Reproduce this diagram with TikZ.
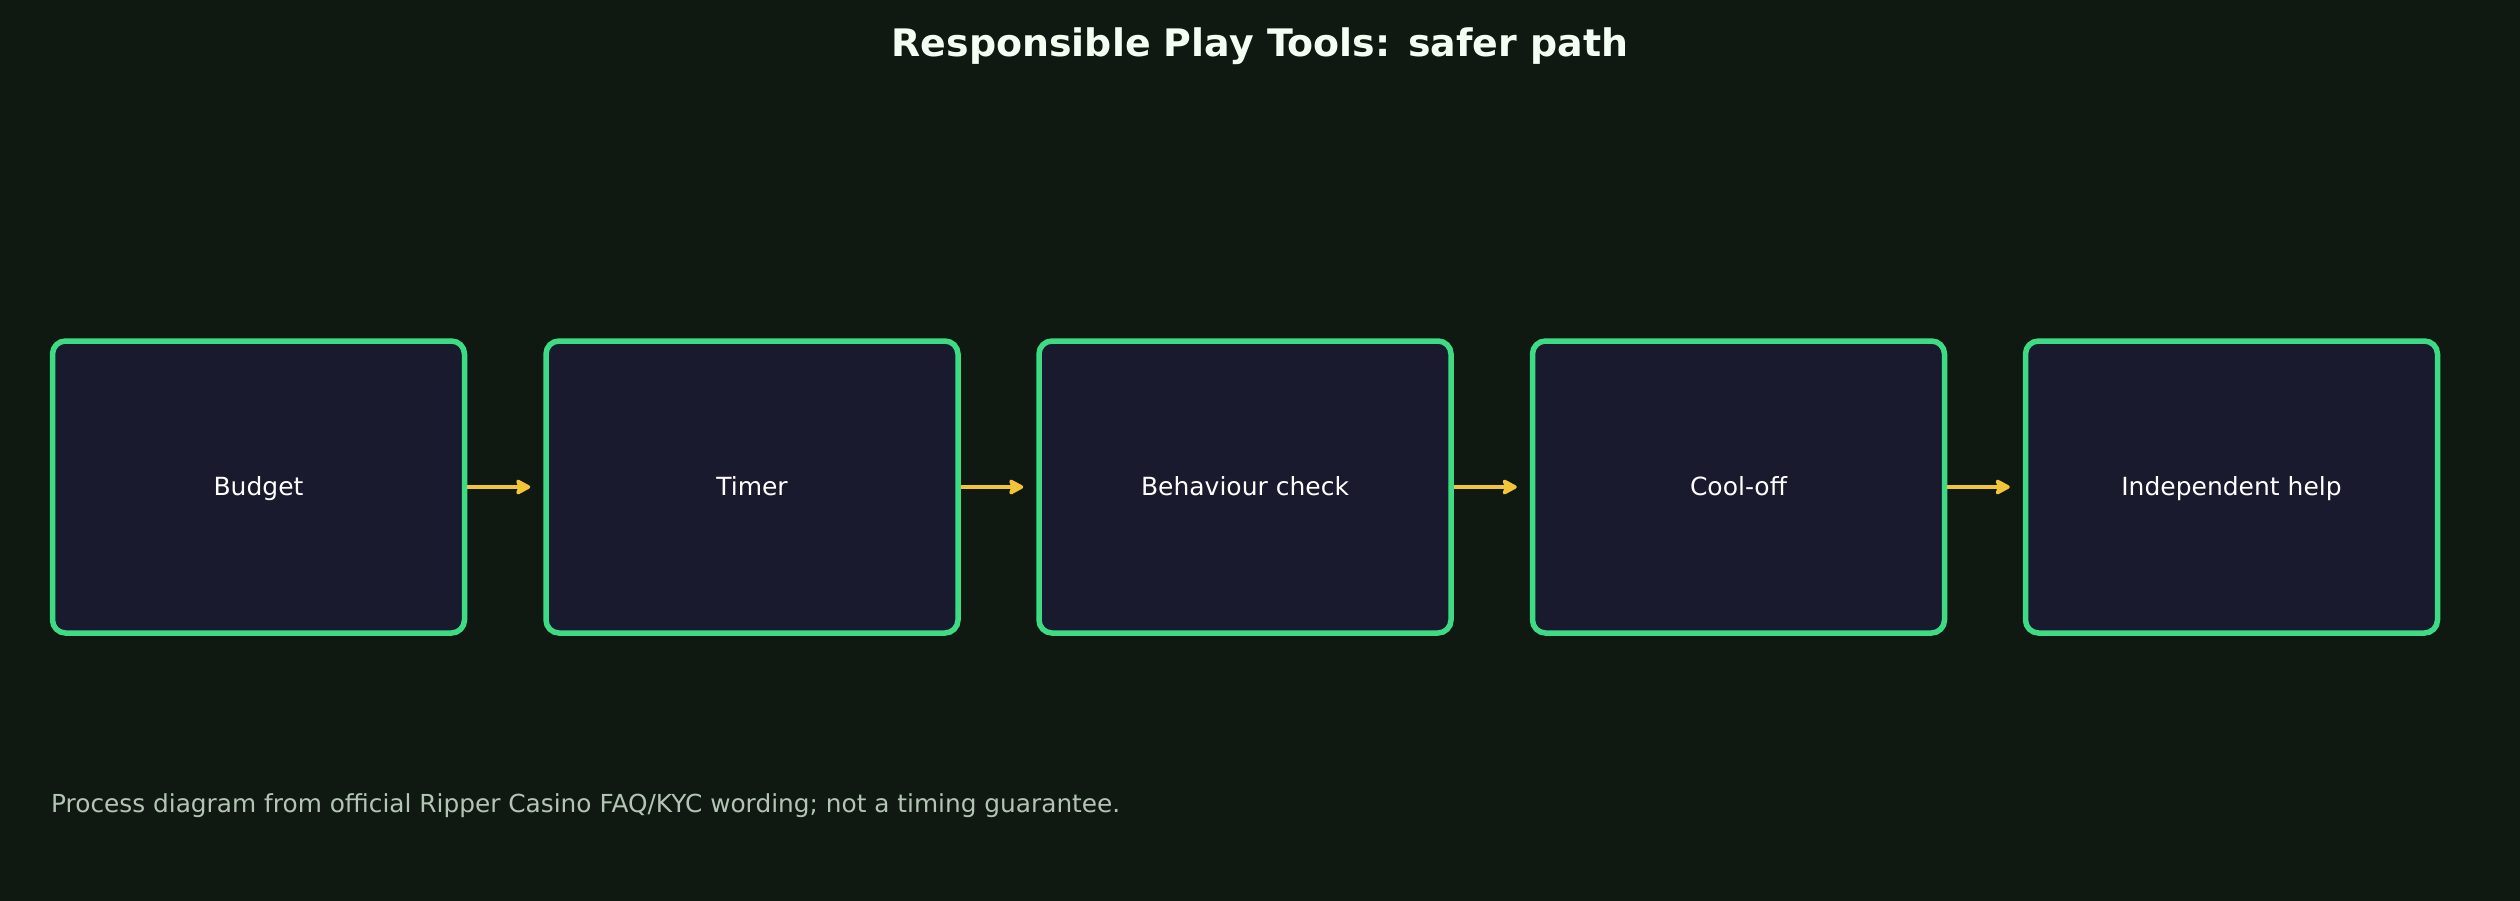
\documentclass[tikz,border=0pt]{standalone}
\usepackage{fontspec}
\setmainfont{DejaVu Sans}
\usetikzlibrary{arrows.meta}
\definecolor{bgc}{HTML}{0F1912}
\definecolor{boxfill}{HTML}{1A1A2E}
\definecolor{boxline}{HTML}{3DDC84}
\definecolor{arrc}{HTML}{F2C438}
\definecolor{notec}{HTML}{B4C4B4}
\definecolor{titlec}{HTML}{F2FFF2}
\tikzset{
  stepbox/.style={draw=boxline, line width=5.5pt, fill=boxfill, rounded corners=13pt,
    minimum width=412pt, minimum height=292pt, inner sep=0pt,
    text height=19pt, text depth=2.6pt,
    text=white, font=\fontsize{25}{30}\selectfont},
  flowarrow/.style={draw=arrc, line width=4.2pt, -{Stealth[length=17pt,width=18pt,inset=3pt,round]}},
}
\begin{document}
\begin{tikzpicture}[x=1pt,y=-1pt]
  \useasboundingbox (0,0) rectangle (2520,900);
  \fill[bgc] (-5,-5) rectangle (2525,905);
  \node[font=\bfseries\fontsize{37.9}{44}\selectfont, text=titlec] (title) at (1260,46) {Responsible Play Tools: safer path};
  \node[stepbox] (b1) at (258.5,487) {Budget};
  \node[stepbox] (b2) at (752,487) {Timer};
  \node[stepbox] (b3) at (1245,487) {Behaviour check};
  \node[stepbox] (b4) at (1738.5,487) {Cool-off};
  \node[stepbox] (b5) at (2231.5,487) {Independent help};
  \foreach \a/\b in {b1/b2,b2/b3,b3/b4,b4/b5}
    \draw[flowarrow] (\a.east) -- ([xshift=-13pt]\b.west);
  \node[anchor=west, text=notec, font=\fontsize{24.8}{30}\selectfont, inner sep=0pt] (note) at (51,806) {Process diagram from official Ripper Casino FAQ/KYC wording; not a timing guarantee.};
\end{tikzpicture}
\end{document}
